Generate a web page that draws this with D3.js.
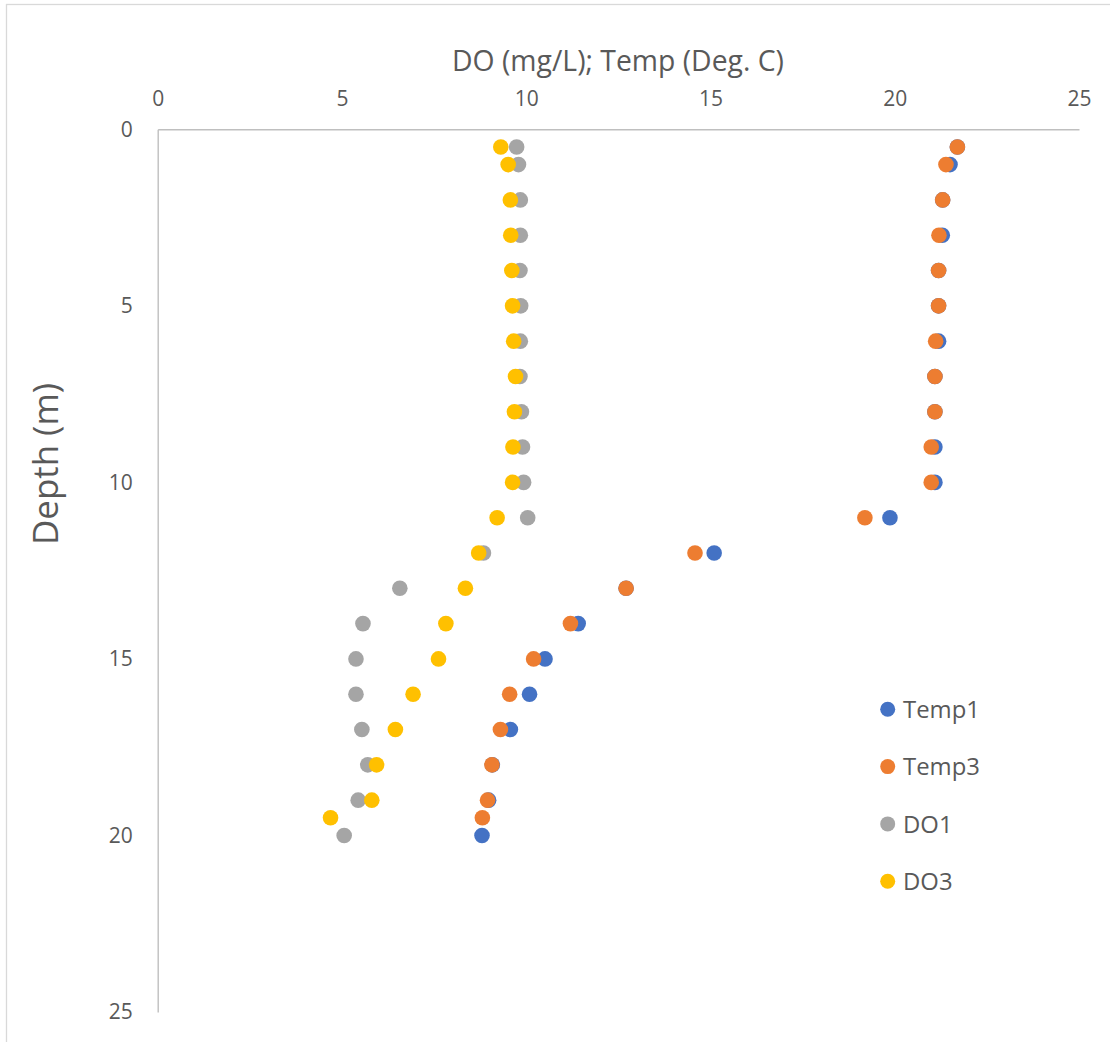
<!DOCTYPE html>
<html>
<head>
<meta charset="utf-8">
<script src="https://cdn.jsdelivr.net/npm/d3@7"></script>
<style>
  html, body { margin: 0; padding: 0; background: #fff; }
  svg { display: block; }
  text { font-family: "Open Sans", "Noto Sans", sans-serif; fill: #595959; }
</style>
</head>
<body>
<svg id="chart" width="1110" height="1042"></svg>
<script>
// ---- data ----
const seriesNames = ["Temp1", "Temp3", "DO1", "DO3"];
const depth1 = [0.5, 1, 2, 3, 4, 5, 6, 7, 8, 9, 10, 11, 12, 13, 14, 15, 16, 17, 18, 19, 20];
const depth3 = [0.5, 1, 2, 3, 4, 5, 6, 7, 8, 9, 10, 11, 12, 13, 14, 15, 16, 17, 18, 19, 19.5];
const temp1 = [21.70, 21.50, 21.30, 21.29, 21.19, 21.19, 21.19, 21.09, 21.09, 21.09, 21.09, 19.87, 15.10, 12.71, 11.41, 10.51, 10.09, 9.57, 9.08, 8.98, 8.80];
const temp3 = [21.70, 21.39, 21.30, 21.20, 21.19, 21.19, 21.11, 21.09, 21.09, 20.99, 20.99, 19.19, 14.58, 12.71, 11.20, 10.20, 9.55, 9.30, 9.07, 8.95, 8.81];
const do1   = [9.74, 9.79, 9.84, 9.84, 9.83, 9.85, 9.84, 9.83, 9.87, 9.90, 9.93, 10.04, 8.84, 6.57, 5.57, 5.38, 5.38, 5.54, 5.70, 5.44, 5.06];
const do3   = [9.31, 9.51, 9.57, 9.58, 9.61, 9.63, 9.66, 9.71, 9.68, 9.64, 9.63, 9.21, 8.71, 8.35, 7.82, 7.62, 6.93, 6.45, 5.94, 5.81, 4.69];
const xTicks = [0, 5, 10, 15, 20, 25];
const yTicks = [0, 5, 10, 15, 20, 25];
const xTitle = "DO (mg/L); Temp (Deg. C)";
const yTitle = "Depth (m)";

const colors = ["#4472C4", "#ED7D31", "#A5A5A5", "#FFC000"];
const seriesData = [
  temp1.map((v, i) => ({ x: v, y: depth1[i] })),
  temp3.map((v, i) => ({ x: v, y: depth3[i] })),
  do1.map((v, i) => ({ x: v, y: depth1[i] })),
  do3.map((v, i) => ({ x: v, y: depth3[i] }))
];

// ---- layout ----
const svg = d3.select("#chart");
const x = d3.scaleLinear().domain([0, 25]).range([157.7, 1079]);
const y = d3.scaleLinear().domain([0, 25]).range([129.3, 1012]);

// outer border
svg.append("rect").attr("x", 6.5).attr("y", 4.5).attr("width", 1130).attr("height", 1070)
  .attr("fill", "#fff").attr("stroke", "#D9D9D9").attr("stroke-width", 1.3);

function fit(sel, targetW) {
  const node = sel.node();
  const w = node.getComputedTextLength();
  const fs = parseFloat(sel.attr("font-size"));
  if (w > 0) sel.attr("font-size", fs * targetW / w);
}

// x axis (top)
const xAxis = svg.append("g").attr("transform", `translate(0,${y(0)})`)
  .call(d3.axisTop(x).tickValues(xTicks).tickSize(0).tickPadding(23).tickFormat(d3.format("d")));
xAxis.select(".domain").attr("stroke", "#BFBFBF").attr("stroke-width", 1.4);
xAxis.selectAll("text").attr("font-size", 21).attr("fill", "#595959")
  .style("font-family", '"Open Sans", sans-serif');

// y axis (left)
const yAxis = svg.append("g").attr("transform", `translate(${x(0)},0)`)
  .call(d3.axisLeft(y).tickValues(yTicks).tickSize(0).tickPadding(25).tickFormat(d3.format("d")));
yAxis.select(".domain").attr("stroke", "#BFBFBF").attr("stroke-width", 1.4);
yAxis.selectAll("text").attr("font-size", 21).attr("fill", "#595959")
  .style("font-family", '"Open Sans", sans-serif');

// titles
const t1 = svg.append("text").attr("x", 618).attr("y", 71).attr("text-anchor", "middle")
  .attr("font-size", 24).text(xTitle);
fit(t1, 332);

const t2 = svg.append("text").attr("transform", "translate(58,464) rotate(-90)")
  .attr("text-anchor", "middle").attr("font-size", 30).text(yTitle);
fit(t2, 162);

// points
seriesData.forEach((data, si) => {
  svg.append("g").selectAll("circle").data(data).join("circle")
    .attr("cx", d => x(d.x)).attr("cy", d => y(d.y)).attr("r", 7.8)
    .attr("fill", colors[si]);
});

// legend
const leg = svg.append("g");
seriesNames.forEach((name, i) => {
  const ly = 709.3 + i * 57.3;
  leg.append("circle").attr("cx", 887.7).attr("cy", ly).attr("r", 7.5).attr("fill", colors[i]);
  const t = leg.append("text").attr("x", 903).attr("y", ly).attr("dy", "0.36em")
    .attr("font-size", 22).text(name);
  if (i === 0) fit(t, 77);
  else t.attr("font-size", leg.select("text").attr("font-size"));
});
</script>
</body>
</html>
